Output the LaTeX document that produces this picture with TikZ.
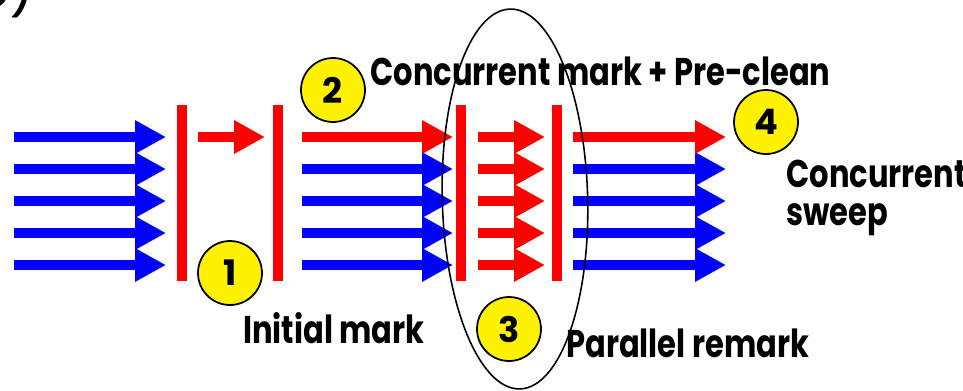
\documentclass[tikz,border=0pt]{standalone}
\usepackage{fontspec}
\setmainfont{Poppins}
\newfontfamily\lblfont{Poppins}[FakeStretch=0.79]
\usepackage{tikz}
\usetikzlibrary{arrows.meta, positioning, calc}

\tikzset{
  flow/.style={line width=0.2cm, -{Triangle[length=0.62cm, width=0.63cm]}},
  bar/.style={red, line width=0.2cm},
  stepno/.style={circle, draw=black, line width=1pt, fill=yellow, minimum size=1.28cm,
    inner sep=0pt, font=\bfseries\fontsize{20}{20}\selectfont},
  lbl/.style={anchor=base west, inner sep=0pt, font=\lblfont\bfseries\fontsize{22}{20}\selectfont},
}

\begin{document}
\begin{tikzpicture}[x=0.02cm, y=-0.02cm]
  \useasboundingbox (0,0) rectangle (963,390);
  % cut-off label of the sub-figure
  \node[anchor=base west, inner sep=0pt, font=\fontsize{32}{32}\selectfont] (part) at (-25,7) {c)};
  % the four phase bars
  \def\bartop{105}
  \def\barbot{281}
  \foreach \n/\x in {1/182, 2/278, 3/461, 4/557}{
    \coordinate (b\n t) at (\x,\bartop);
    \coordinate (b\n b) at (\x,\barbot);
    \draw[bar] (b\n t) -- (b\n b);
  }
  % rows of threads
  \foreach \r in {0,...,4}{
    \pgfmathsetmacro{\yy}{137+32*\r}
    \coordinate (a\r) at (14,\yy);  \coordinate (A\r) at (166,\yy);
    \coordinate (c\r) at (302,\yy); \coordinate (C\r) at (453,\yy);
    \coordinate (d\r) at (478,\yy); \coordinate (D\r) at (545,\yy);
    \coordinate (e\r) at (573,\yy); \coordinate (E\r) at (726,\yy);
    \draw[flow, blue] (a\r) -- (A\r);
    \draw[flow, red] (d\r) -- (D\r);
  }
  \foreach \r in {1,...,4}{
    \draw[flow, blue] (c\r) -- (C\r);
    \draw[flow, blue] (e\r) -- (E\r);
  }
  \draw[flow, red] (c0) -- (C0);
  \draw[flow, red] (e0) -- (E0);
  % single initial-mark thread
  \coordinate (i0) at (198,137);
  \coordinate (I0) at (265,137);
  \draw[flow, red] (i0) -- (I0);
  % remark phase ring
  \coordinate (ring) at (515,199);
  \draw[line width=0.9pt, rotate around={1.5:(ring)}] (ring) ellipse [x radius=72.7, y radius=190];
  % numbered steps
  \node[stepno] (s1) at (230,273) {1};
  \node[stepno] (s2) at (333,90) {2};
  \node[stepno] (s3) at (509,329) {3};
  \node[stepno] (s4) at (766,122) {4};
  % Labels
  \node[lbl] (l2) at (370,85) {Concurrent mark + Pre-clean};
  \node[lbl] (l1) at (243,343) {Initial mark};
  \node[lbl] (l3) at (566,357) {Parallel remark};
  \node[lbl] (l4) at (786,187) {Concurrent};
  \node[lbl] (l4b) at (786,225) {sweep};
\end{tikzpicture}
\end{document}
